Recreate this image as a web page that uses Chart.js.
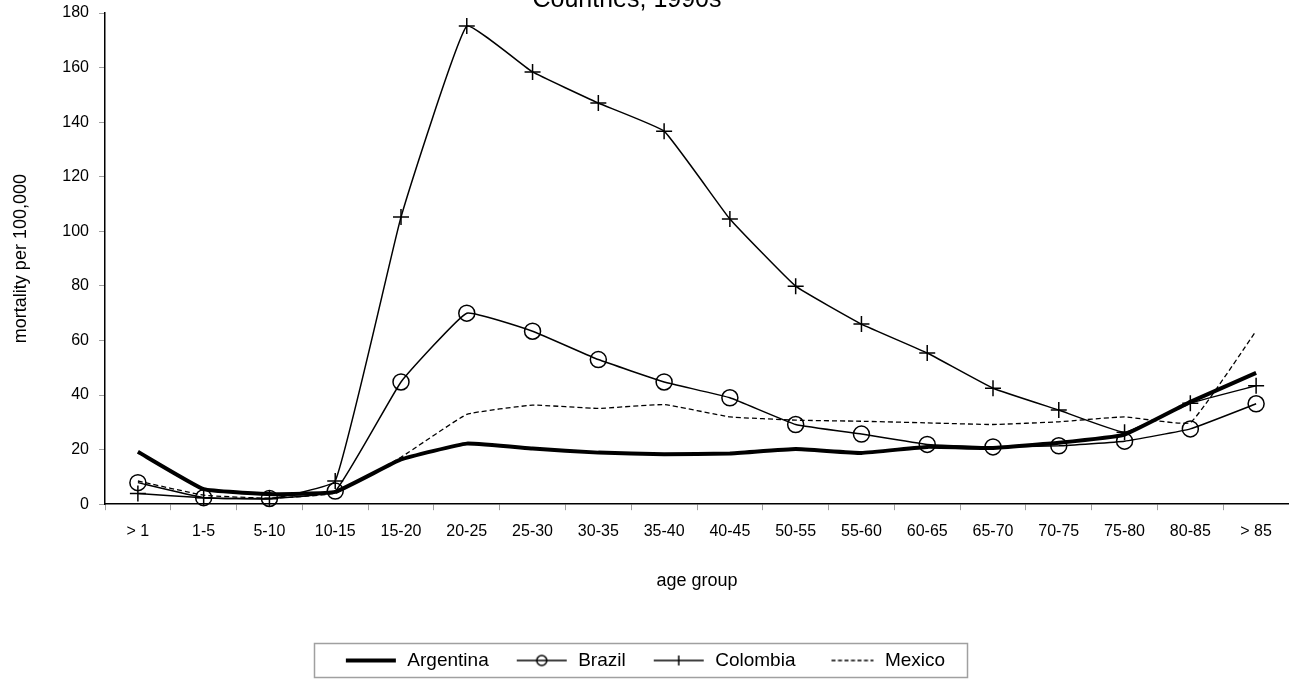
<!DOCTYPE html>
<html>
<head>
<meta charset="utf-8">
<script src="https://cdn.jsdelivr.net/npm/chart.js@4.4.1/dist/chart.umd.min.js"></script>
<style>
  html, body { margin: 0; padding: 0; background: #ffffff; }
  #wrap { width: 1289px; height: 682px; position: relative; }
</style>
</head>
<body>
<div id="wrap"><canvas id="chart" width="1289" height="682"></canvas></div>
<script>
// Age groups along the x axis
const ageGroups = ['> 1', '1-5', '5-10', '10-15', '15-20', '20-25', '25-30', '30-35', '35-40',
  '40-45', '50-55', '55-60', '60-65', '65-70', '70-75', '75-80', '80-85', '> 85'];

// Mortality per 100,000 by country
const argentina = [19.2, 5.5, 3.7, 4.5, 16.4, 22.2, 20.4, 18.9, 18.3, 18.6, 20.2, 18.8, 21, 20.6, 22.5, 25.5, 37.5, 48.1];
const brazil    = [7.9, 2.4, 2.1, 4.8, 44.8, 70, 63.4, 53, 44.8, 39, 29.2, 25.7, 21.9, 21, 21.4, 23.1, 27.6, 36.8];
const colombia  = [3.9, 2.4, 2, 8.5, 105.2, 175.2, 158.4, 147, 136.7, 104.5, 79.9, 66, 55.4, 42.5, 34.5, 26.4, 37, 43.4];
const mexico    = [8.5, 3.3, 2.2, 4, 17.2, 32.9, 36.3, 35.1, 36.5, 32, 30.8, 30.4, 29.8, 29.2, 30.2, 32, 29.9, 63.5];

// Y axis range
const yMin = 0, yMax = 180, yStep = 20;

const titleText = 'Countries, 1990s';
const FONT = "'Liberation Sans', Arial, sans-serif";

// Small line-with-marker samples used as legend symbols
function legendSample(kind) {
  const c = document.createElement('canvas');
  c.width = 54; c.height = 18;
  const g = c.getContext('2d');
  const y = 9;
  g.strokeStyle = '#000';
  g.lineCap = 'butt';
  if (kind === 'thick') {
    g.lineWidth = 4;
    g.beginPath(); g.moveTo(2, y); g.lineTo(52, y); g.stroke();
  } else if (kind === 'circle') {
    g.lineWidth = 1.5;
    g.beginPath(); g.moveTo(2, y); g.lineTo(52, y); g.stroke();
    g.beginPath(); g.arc(27, y, 5, 0, Math.PI * 2); g.stroke();
  } else if (kind === 'cross') {
    g.lineWidth = 1.5;
    g.beginPath(); g.moveTo(2, y); g.lineTo(52, y); g.stroke();
    g.beginPath(); g.moveTo(27, y - 5); g.lineTo(27, y + 5); g.stroke();
  } else {
    g.lineWidth = 1.3;
    g.setLineDash([4, 2.5]);
    g.beginPath(); g.moveTo(10, y); g.lineTo(52, y); g.stroke();
  }
  return c;
}

// Partly visible title line at the top edge
const topTitle = {
  id: 'topTitle',
  afterDraw(chart) {
    const ctx = chart.ctx;
    ctx.save();
    ctx.font = '25px ' + FONT;
    ctx.fillStyle = '#000';
    ctx.textAlign = 'center';
    ctx.textBaseline = 'alphabetic';
    ctx.fillText(titleText, 627, 7);
    ctx.restore();
  }
};

// Frame around the legend items
const legendFrame = {
  id: 'legendFrame',
  afterDraw(chart) {
    const lg = chart.legend;
    if (!lg || !lg.legendHitBoxes || !lg.legendHitBoxes.length) return;
    const boxes = lg.legendHitBoxes;
    let l = Infinity, r = -Infinity, t = Infinity, b = -Infinity;
    boxes.forEach(h => {
      l = Math.min(l, h.left); r = Math.max(r, h.left + h.width);
      t = Math.min(t, h.top); b = Math.max(b, h.top + h.height);
    });
    const ctx = chart.ctx;
    ctx.save();
    ctx.strokeStyle = '#a0a0a0';
    ctx.lineWidth = 1.5;
    ctx.strokeRect(Math.round(l - 30) + 0.5, Math.round(t - 8) + 0.5, Math.round(r - l + 52), Math.round(b - t + 15));
    ctx.restore();
  }
};

const common = { borderColor: '#000', backgroundColor: 'transparent', tension: 0.1, pointHoverRadius: 0, clip: false };

new Chart(document.getElementById('chart'), {
  type: 'line',
  data: {
    labels: ageGroups,
    datasets: [
      Object.assign({}, common, { label: 'Argentina', data: argentina, borderWidth: 4, pointRadius: 0,
        pointStyle: legendSample('thick') }),
      Object.assign({}, common, { label: 'Brazil', data: brazil, borderWidth: 1.5, pointRadius: 8,
        pointBorderWidth: 1.5, pointBackgroundColor: 'transparent', pointBorderColor: '#000',
        pointStyle: 'circle', legendSymbol: legendSample('circle') }),
      Object.assign({}, common, { label: 'Colombia', data: colombia, borderWidth: 1.5, pointRadius: 8,
        pointBorderWidth: 1.5, pointBorderColor: '#000', pointStyle: 'cross',
        legendSymbol: legendSample('cross') }),
      Object.assign({}, common, { label: 'Mexico', data: mexico, borderWidth: 1.3, borderDash: [5, 3],
        pointRadius: 0, pointStyle: legendSample('dash') })
    ]
  },
  options: {
    responsive: false,
    animation: false,
    devicePixelRatio: 1,
    layout: { autoPadding: false, padding: { top: 13, right: 0, left: 0, bottom: 2 } },
    plugins: {
      title: { display: false },
      tooltip: { enabled: false },
      legend: {
        position: 'bottom',
        labels: {
          usePointStyle: true,
          pointStyleWidth: 54,
          padding: 26,
          color: '#000',
          font: { family: FONT, size: 19 },
          generateLabels(chart) {
            return chart.data.datasets.map((ds, i) => ({
              text: ds.label,
              pointStyle: ds.legendSymbol || ds.pointStyle,
              fillStyle: 'transparent',
              strokeStyle: 'transparent',
              lineWidth: 0,
              fontColor: '#000',
              hidden: false,
              datasetIndex: i
            }));
          }
        }
      }
    },
    scales: {
      x: {
        type: 'category',
        offset: true,
        grid: { offset: true, drawOnChartArea: false, drawTicks: true, tickLength: 6, color: '#a0a0a0', lineWidth: 1 },
        border: { display: true, color: '#000', width: 1.5 },
        ticks: { color: '#000', font: { family: FONT, size: 16 }, padding: 12, maxRotation: 0, autoSkip: false },
        title: { display: true, text: 'age group', color: '#000', font: { family: FONT, size: 18 },
          padding: { top: 17, bottom: 33 } },
        afterFit(scale) { scale.paddingLeft = 0; scale.paddingRight = 0; }
      },
      y: {
        min: yMin, max: yMax,
        grid: { drawOnChartArea: false, drawTicks: true, tickLength: 6, color: '#a0a0a0', lineWidth: 1 },
        border: { display: true, color: '#000', width: 1.5 },
        ticks: { stepSize: yStep, color: '#000', font: { family: FONT, size: 16 }, padding: 10 },
        title: { display: true, text: 'mortality per 100,000', color: '#000', font: { family: FONT, size: 18 },
          padding: { top: 10, bottom: 10 } },
        afterFit(scale) { scale.width = 105; scale.paddingTop = 0; scale.paddingBottom = 0; }
      }
    }
  },
  plugins: [topTitle, legendFrame]
});
</script>
</body>
</html>
